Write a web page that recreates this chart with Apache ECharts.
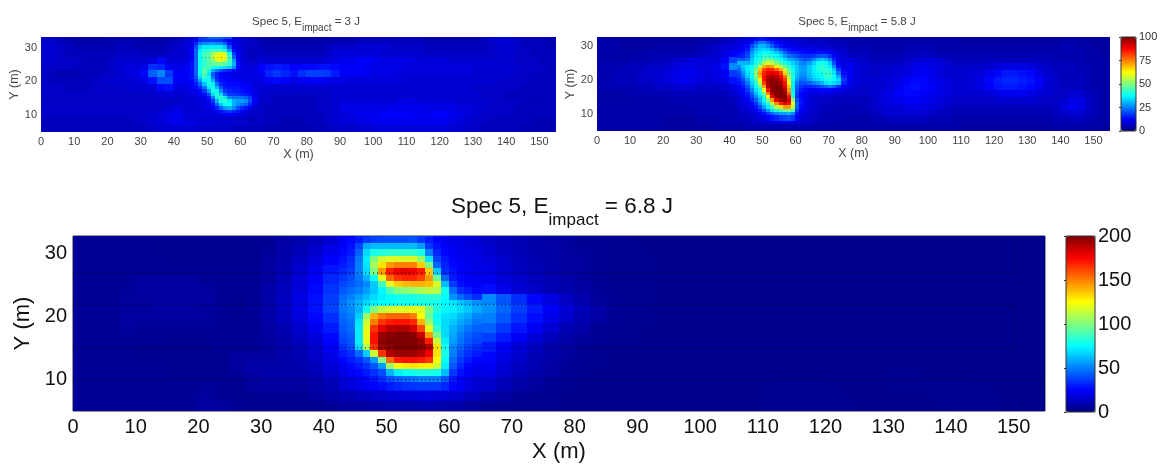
<!DOCTYPE html>
<html><head><meta charset="utf-8">
<style>html,body{margin:0;padding:0;background:#fff}#c{width:1163px;height:464px}</style>
<script src="https://cdn.jsdelivr.net/npm/echarts@6/dist/echarts.min.js"></script>
</head><body><div id="c"></div>
<script>
// Rows run from the top of each plot to the bottom; columns are 2.5 m wide, from X = 0 to 155.
const rows3J = [
[7,7,6,5,4,4,4,4,5,5, 5,5,4,4,4,5,6,7,10,18, 22,22,20,12,8,6,5,4,4,4, 4,4,4,4,4,5,5,5,6,6, 6,6,6,6,6,6,5,5,5,5, 5,5,5,6,8,9,9,7,6,6,6,5],
[8,8,7,6,5,5,5,5,5,6, 6,5,5,5,5,6,7,8,14,34, 38,38,30,16,10,7,6,5,5,5, 5,5,5,5,6,7,7,7,8,8, 8,8,7,7,7,7,6,6,6,6, 6,6,6,6,7,8,8,7,6,6,6,5],
[8,8,7,6,6,6,6,6,6,7, 7,7,6,6,6,7,8,9,16,38, 44,56,58,36,14,9,7,6,6,6, 6,6,6,6,7,9,9,9,9,9, 9,8,8,8,8,8,7,7,7,7, 7,7,7,7,7,8,8,7,7,6,6,6],
[8,8,7,7,7,6,6,6,7,8, 8,8,8,9,13,9,9,10,18,40, 44,55,58,44,20,11,9,8,8,8, 8,8,8,8,9,10,11,11,12,12, 11,10,10,10,10,9,9,9,9,8, 8,8,8,8,8,8,8,7,7,7,6,6],
[7,7,7,7,6,6,6,6,7,8, 9,9,10,17,16,11,10,11,18,38, 44,42,40,36,16,11,12,14,15,14, 12,13,13,14,14,13,12,12,12,11, 10,10,10,10,9,9,9,9,9,9, 9,9,8,8,8,8,8,8,7,7,7,6],
[7,6,5,5,5,6,6,7,7,8, 9,10,13,22,26,18,12,12,20,40, 40,30,14,11,10,10,12,16,18,16, 14,17,19,19,18,15,12,12,12,11, 10,10,10,9,9,9,9,9,9,9, 9,9,8,8,8,8,8,7,7,7,6,6],
[7,6,6,6,6,6,7,7,8,8, 8,9,10,14,20,20,12,11,18,34, 38,26,13,11,10,9,10,12,13,12, 10,11,12,12,11,10,10,9,9,9, 9,9,9,9,8,8,8,8,8,8, 8,8,8,8,8,7,7,7,7,6,6,6],
[7,7,7,6,6,6,7,7,7,7, 8,8,8,9,13,14,10,10,12,20, 38,36,20,13,11,9,8,8,8,8, 8,8,8,8,8,8,8,8,8,8, 8,8,8,8,8,8,8,8,8,8, 8,8,7,7,7,7,7,7,6,6,6,6],
[7,7,7,7,7,7,7,7,7,7, 7,7,7,7,8,9,8,8,9,12, 24,38,36,20,15,12,8,7,7,7, 7,7,7,7,7,8,8,8,8,8, 8,8,8,8,8,8,8,8,8,8, 8,8,8,7,7,7,6,6,6,6,6,6],
[7,7,7,7,7,7,7,7,7,7, 7,7,7,7,7,7,7,7,8,10, 16,28,38,40,28,14,8,7,6,6, 6,6,6,7,7,8,9,9,9,9, 9,9,9,10,10,9,9,9,9,9, 8,8,8,8,7,7,7,7,6,6,6,6],
[7,7,7,7,7,7,7,7,7,7, 7,7,7,7,7,8,9,9,8,8, 10,16,28,30,18,10,7,6,6,6, 6,6,6,7,7,8,10,10,10,10, 10,10,11,11,11,11,10,10,10,10, 9,9,8,8,7,7,7,6,6,6,6,6],
[7,7,7,7,7,7,7,7,7,7, 7,7,7,8,9,10,11,10,9,9, 9,10,11,10,9,8,7,6,6,6, 6,6,6,6,7,8,9,10,11,11, 11,12,12,12,12,11,11,12,12,11, 10,9,8,7,7,7,7,6,6,6,6,6],
[6,6,6,6,6,6,6,6,6,6, 6,7,7,8,9,10,11,11,10,9, 9,8,8,8,8,7,7,6,6,5, 5,5,6,6,7,8,9,9,10,10, 11,11,11,11,11,11,11,11,11,10, 9,8,7,7,6,6,6,6,6,5,5,5],
[6,6,6,6,6,6,6,6,6,6, 6,6,6,7,8,8,8,8,8,7, 7,7,7,6,6,6,6,5,5,5, 5,5,5,6,6,7,7,7,8,8, 9,9,9,9,9,9,9,9,9,8, 8,7,7,6,6,6,6,6,5,5,5,5]
];
const rows58J = [
[4,4,4,3,3,3,3,3,3,3, 3,3,4,4,5,6,7,8,10,14, 14,12,10,9,8,8,7,6,6,5, 5,4,4,4,4,4,4,4,4,4, 4,4,4,4,3,3,3,3,3,3, 3,3,3,3,3,3,4,4,4,3,3,3],
[4,4,4,3,3,3,3,4,4,4, 4,4,5,6,7,8,9,11,14,24, 28,24,18,14,12,10,8,7,6,6, 5,5,5,4,4,4,4,5,5,5, 5,4,4,4,4,4,4,4,4,4, 4,4,4,4,4,4,5,5,4,4,3,3],
[4,4,4,4,4,4,5,5,5,5, 5,5,6,7,8,10,12,15,20,30, 34,32,28,22,17,13,11,9,8,7, 6,6,6,5,5,5,5,6,6,7, 6,5,5,5,5,5,5,5,5,5, 5,5,5,5,5,5,5,5,5,4,4,3],
[4,4,4,4,5,5,5,6,6,7, 8,9,9,9,9,12,19,24,32,34, 38,38,36,30,24,20,20,22,20,15, 10,8,7,6,6,6,6,7,8,9, 9,8,7,6,6,6,6,6,6,6, 6,6,6,6,6,5,5,5,5,4,4,4],
[5,5,5,5,6,6,7,7,8,9, 10,10,9,9,10,14,26,30,36,48, 56,62,56,40,30,26,30,36,36,20, 11,9,8,7,7,7,8,9,10,11, 10,9,8,7,7,7,7,8,9,10, 10,10,9,8,7,6,6,6,5,5,4,4],
[5,5,6,6,6,7,8,8,9,10, 11,11,10,9,10,12,18,28,40,60, 74,78,72,42,30,26,30,36,38,28, 12,9,8,7,8,8,9,10,11,12, 11,9,8,8,8,9,9,11,13,15, 15,14,13,10,8,7,6,6,6,5,4,4],
[5,5,6,6,6,7,7,8,9,10, 11,10,9,8,9,10,14,22,32,55, 90,96,88,55,30,24,28,34,38,30, 11,9,8,8,8,9,10,12,13,13, 11,10,9,8,8,9,10,13,15,16, 16,15,14,12,9,7,6,6,6,5,4,4],
[5,5,5,5,5,6,6,7,7,8, 8,8,7,7,7,8,10,16,24,40, 78,98,98,62,24,18,18,20,24,14, 10,8,7,8,8,9,11,13,14,13, 12,10,9,8,8,9,10,12,14,15, 15,14,13,11,8,7,6,6,6,5,4,4],
[4,4,4,4,5,5,5,5,5,6, 6,6,6,6,6,6,8,12,18,28, 52,92,99,72,22,14,12,11,10,8, 7,7,7,8,9,10,12,13,13,12, 11,10,9,8,8,8,8,9,10,11, 11,11,10,9,8,7,7,8,8,6,5,4],
[4,4,4,4,4,4,4,4,5,5, 5,5,5,5,5,5,6,9,13,20, 34,70,98,84,26,14,10,8,7,7, 6,6,6,7,9,10,11,12,12,11, 10,9,8,7,7,7,7,7,8,8, 8,8,8,7,7,7,8,10,10,7,5,4],
[4,4,4,4,4,4,4,4,4,4, 4,5,5,5,5,5,5,7,9,13, 20,32,62,70,22,12,8,7,6,5, 5,5,6,7,8,9,9,10,10,10, 9,8,7,6,6,6,6,6,6,6, 6,6,6,6,6,7,9,11,10,7,5,4],
[4,4,4,4,4,4,4,4,4,4, 4,4,5,5,5,5,5,5,7,9, 12,16,22,24,12,9,7,6,5,5, 5,5,5,6,7,8,8,8,8,8, 7,6,6,5,5,5,5,5,5,5, 5,5,5,5,5,6,7,8,8,6,5,4],
[4,4,4,4,4,4,4,4,3,3, 3,3,4,4,4,5,5,5,6,7, 8,9,10,10,8,7,6,5,5,4, 4,4,4,5,5,6,6,6,6,6, 5,5,5,4,4,4,4,4,4,4, 4,4,4,4,4,5,5,6,6,5,4,4],
[4,4,4,4,4,4,4,4,3,3, 3,3,3,3,4,4,4,4,5,5, 5,5,5,5,5,5,4,4,4,4, 4,4,4,4,4,4,4,4,4,4, 4,4,4,4,3,3,3,3,3,3, 3,3,3,3,3,4,4,4,4,4,4,3]
];
const rows68J = [
[5,5,5,5,4,4,4,4,4,4, 4,4,5,7,9,12,16,24,34,38, 40,40,38,28,22,18,14,12,10,8, 7,6,5,4,4,4,3,3,3,3, 3,3,3,3,3,3,3,3,3,3, 3,3,3,3,3,3,3,3,3,3,3,3],
[5,5,5,5,5,4,4,4,4,4, 4,4,5,8,11,15,21,28,60,78, 82,82,72,38,26,20,16,13,11,9, 8,6,5,5,4,4,3,3,3,3, 3,3,3,3,3,3,3,3,3,3, 3,3,3,3,3,3,3,3,3,3,3,3],
[5,5,5,5,5,5,4,4,4,4, 4,4,6,9,13,18,25,32,68,120, 125,125,95,45,30,22,18,15,12,10, 8,7,6,5,4,4,4,3,3,3, 3,3,3,3,3,3,3,3,3,3, 3,3,3,3,3,3,3,3,3,3,3,3],
[5,5,5,5,5,5,5,5,5,5, 5,5,7,10,15,22,29,36,70,130, 165,170,135,62,32,24,20,16,13,11, 9,7,6,5,4,4,4,3,3,3, 3,3,3,3,3,3,3,3,3,3, 3,3,3,3,3,3,3,3,3,3,3,3],
[5,5,5,5,6,6,6,6,5,5, 5,5,7,11,17,24,32,40,55,90, 140,155,150,100,40,28,22,18,15,12, 10,8,6,5,4,4,4,3,3,3, 3,3,3,3,3,3,3,3,3,3, 3,3,3,3,3,3,3,3,3,3,3,3],
[5,5,5,5,6,6,7,7,6,5, 5,5,8,12,18,26,35,45,55,80, 115,120,122,105,48,35,27,21,17,14, 11,9,7,5,4,4,4,3,3,3, 3,3,3,3,3,3,3,3,3,3, 3,3,3,3,3,3,3,3,3,3,3,3],
[5,5,5,6,6,7,7,7,7,5, 4,5,8,13,20,28,37,50,60,72, 76,78,80,78,64,60,52,42,34,26, 20,14,10,6,5,4,4,3,3,3, 3,3,3,3,3,3,3,3,3,3, 3,3,3,3,3,3,3,3,3,3,3,3],
[5,5,5,6,6,7,7,7,6,5, 4,5,8,13,20,28,38,50,85,125, 128,125,105,72,70,64,54,45,37,30, 24,17,12,8,5,4,4,3,3,3, 3,3,3,3,3,3,3,3,3,3, 3,3,3,3,3,3,3,3,3,3,3,3],
[5,5,5,6,6,6,6,6,6,5, 4,5,8,12,18,26,34,44,90,150, 162,160,135,85,66,58,50,42,34,27, 21,15,10,7,5,4,4,3,3,3, 3,3,3,3,3,3,3,3,3,3, 3,3,3,3,3,3,3,3,3,3,3,3],
[5,5,5,6,5,5,5,5,5,5, 5,5,7,10,15,22,30,40,85,165, 178,175,160,100,60,52,44,36,29,23, 16,11,8,5,4,4,3,3,3,3, 3,3,3,3,3,3,3,3,3,3, 3,3,3,3,3,3,3,3,3,3,3,3],
[5,5,5,5,5,5,4,4,4,5, 5,5,6,9,13,18,26,36,80,170, 198,198,185,120,54,44,37,30,23,17, 12,8,6,5,4,4,3,3,3,3, 3,3,3,3,3,3,3,3,3,3, 3,3,3,3,3,3,3,3,3,3, 3,3,3,3,3,3,3,3,3,3,3,3].slice(0,62),
[5,5,5,5,4,4,4,4,4,5, 5,5,6,8,11,16,24,38,75,165, 198,200,198,130,55,40,30,24,18,13, 9,7,5,4,4,3,3,3,3,3, 3,3,3,3,3,3,3,3,3,3, 3,3,3,3,3,3,3,3,3,3,3,3],
[5,5,5,5,4,4,4,4,4,4, 6,7,7,8,10,14,20,28,45,100, 165,172,172,125,50,35,26,20,15,11, 8,6,5,4,3,3,3,3,3,3, 3,3,3,3,3,3,3,3,3,3, 3,3,3,3,3,3,3,3,3,3,3,3],
[5,5,5,5,5,5,4,4,4,4, 6,8,8,8,9,12,17,22,34,50, 90,112,112,100,45,30,23,17,13,10, 7,5,4,3,3,3,3,3,3,3, 3,3,3,3,3,3,3,3,3,3, 3,3,3,3,3,3,3,3,3,3,3,3],
[5,5,5,5,5,5,4,4,4,4, 5,7,8,8,8,10,14,19,26,34, 52,55,55,50,35,28,20,15,11,8, 6,5,4,3,3,3,3,3,3,3, 3,3,3,3,3,3,3,3,3,3, 3,3,4,4,3,3,3,3,3,3,3,3],
[5,5,5,5,5,5,5,5,5,5, 4,6,7,7,6,8,11,14,18,22, 28,30,30,30,26,20,15,11,8,6, 5,4,3,3,3,3,3,3,3,3, 3,3,3,3,3,4,4,4,3,3, 3,3,4,4,4,4,4,3,3,3,3,3],
[5,5,5,5,5,5,5,5,6,5, 4,4,5,5,5,6,8,10,12,14, 16,17,18,17,15,12,9,7,5,4, 4,3,3,3,3,3,3,3,3,3, 3,3,3,3,4,4,4,4,4,3, 3,3,3,3,3,4,4,4,4,3,3,3],
[5,5,5,5,5,5,5,5,7,6, 5,4,4,4,4,4,5,6,7,8, 9,9,10,9,8,6,5,4,3,3, 3,3,3,3,3,3,3,3,3,3, 3,3,3,3,4,4,4,4,4,4, 3,3,3,3,3,3,4,4,4,3,3,3]
];
// Finer readings of the hot zones: 1.25 m columns from X = 42.5, 1 m rows from Y = 32.5 down to 8.5.
const hot3J = [
[8,8,9,12,16,18,18,18,18,17,14,11,9,8,8,7,7,7],
[8,9,10,16,24,26,27,28,27,26,22,14,10,9,8,7,7,7],
[8,9,11,20,32,36,36,36,36,36,32,20,11,9,8,7,7,6],
[8,9,12,22,36,40,42,44,44,44,40,28,14,10,9,7,6,6],
[8,9,12,22,38,44,46,52,58,60,58,38,18,11,9,7,6,6],
[8,9,12,22,38,44,46,56,62,64,62,44,22,12,9,8,7,6],
[9,10,13,22,38,42,46,50,58,60,56,44,28,13,10,8,7,7],
[10,11,14,22,38,42,46,46,48,48,46,42,30,14,10,9,8,8],
[11,12,14,22,38,44,44,40,38,36,34,32,26,13,10,9,9,9],
[12,12,14,22,38,46,40,30,24,20,17,15,13,11,10,9,9,10],
[12,12,14,22,38,46,36,22,16,13,12,11,10,10,10,10,10,10],
[12,12,14,20,34,42,38,24,16,13,12,11,11,10,10,10,10,10],
[11,11,13,18,28,38,40,30,18,14,13,12,12,11,11,10,10,9],
[10,11,12,15,22,32,40,36,24,16,14,13,13,13,12,11,11,9],
[10,10,11,13,17,24,36,40,30,20,15,14,14,14,13,12,12,9],
[9,9,10,11,13,18,28,40,38,26,18,16,15,15,14,13,12,10],
[8,9,9,10,11,14,20,34,42,34,24,18,18,17,16,15,14,10],
[8,8,9,9,10,12,15,26,40,42,36,26,24,24,24,22,18,12],
[8,8,8,9,9,10,12,18,30,40,42,36,30,28,28,26,20,12],
[8,8,8,8,9,10,11,14,22,32,38,38,30,26,24,22,16,10],
[8,8,8,8,9,9,10,12,16,22,28,30,26,20,16,14,11,8],
[8,8,8,8,8,9,9,10,12,14,16,18,16,14,11,9,8,7],
[9,9,9,9,9,9,9,9,10,10,11,12,11,10,9,8,7,7],
[9,9,9,8,8,8,8,8,8,8,8,8,8,7,7,7,6,6]
];
const hot58J = [
[8,8,9,10,11,14,14,12,10,9,9,8,8,8,7,7,7,6,6,6,6,6,5,5,5,5],
[9,10,11,14,20,24,24,20,16,13,11,10,9,9,8,8,8,7,7,7,7,7,6,6,6,5],
[10,11,13,20,26,30,30,27,22,17,14,12,11,10,10,9,9,9,8,8,8,8,7,7,6,6],
[11,12,15,24,30,33,34,33,30,25,20,16,14,13,12,11,11,10,10,10,10,9,9,8,7,7],
[13,14,18,27,33,36,38,38,36,32,28,22,18,16,15,14,14,13,13,14,14,13,12,10,9,8],
[15,16,20,30,36,38,42,42,40,38,34,28,24,22,20,18,17,17,18,20,21,20,17,13,10,9],
[22,21,23,32,38,40,46,48,46,42,38,34,30,28,25,22,20,21,26,30,32,30,24,16,11,9],
[30,30,30,33,40,44,54,58,56,50,44,40,36,33,30,26,25,28,33,38,40,38,32,20,12,9],
[26,32,36,38,44,55,70,74,72,64,56,48,42,36,32,28,28,32,36,40,42,40,36,26,14,10],
[22,30,36,40,48,68,80,84,84,78,70,56,46,38,32,28,28,32,36,40,42,42,40,32,18,11],
[20,27,35,40,52,72,84,88,90,88,82,66,50,40,32,28,28,32,36,38,40,42,42,36,24,13],
[18,24,32,38,50,70,86,94,96,94,88,76,54,40,30,26,26,30,34,36,38,42,42,38,30,15],
[16,20,28,36,46,64,86,96,98,97,92,82,58,38,28,24,24,28,32,34,36,40,40,38,34,18],
[14,17,24,33,42,56,82,96,99,99,96,86,62,36,24,20,20,22,25,27,30,34,36,34,32,16],
[12,15,20,30,38,48,72,94,99,100,98,90,68,36,22,18,16,16,17,18,20,22,24,22,17,12],
[11,13,18,26,35,42,60,86,98,100,100,94,72,36,20,15,13,12,12,12,13,13,13,12,11,10],
[10,12,15,22,31,38,50,75,95,100,100,98,78,38,18,13,11,10,10,9,9,9,9,9,8,8],
[9,11,14,19,27,34,42,62,88,98,100,99,86,42,18,13,11,9,8,8,8,8,8,7,7,7],
[9,10,12,16,22,30,38,50,72,90,97,98,90,52,20,14,11,9,8,7,7,7,7,7,6,6],
[8,9,10,13,18,26,34,42,56,74,85,90,86,60,22,14,11,9,8,7,7,6,6,6,6,6],
[7,8,9,11,14,20,28,36,44,56,66,72,72,56,22,13,10,9,8,7,6,6,6,6,5,5],
[7,7,8,9,11,15,20,27,34,40,44,48,50,44,18,12,10,8,7,7,6,6,5,5,5,5],
[6,7,7,8,9,11,14,18,22,26,28,28,30,26,14,10,9,8,7,6,6,5,5,5,5,5],
[6,6,6,7,8,9,10,12,14,16,18,19,20,18,12,9,8,7,6,6,5,5,5,5,5,5]
];
const hot68J = [
[22,26,30,36,38,40,40,40,40,42,36,30,25,22,20,19,18,17],
[24,28,38,58,62,62,62,62,62,62,55,36,28,24,22,20,19,18],
[26,30,44,68,80,82,84,84,84,84,80,50,32,26,23,21,20,19],
[28,33,48,72,100,115,118,118,118,118,105,70,38,29,25,22,21,20],
[30,35,50,70,108,130,145,150,150,150,135,100,45,31,26,24,22,20],
[33,37,50,68,100,145,170,178,180,178,170,135,65,33,28,25,23,21],
[36,40,48,60,78,120,155,165,168,168,162,145,95,45,30,26,24,22],
[38,42,46,52,65,88,120,135,138,140,140,138,118,62,36,28,25,23],
[42,46,50,56,64,74,90,100,102,105,108,112,110,78,46,34,30,26],
[46,50,56,62,68,72,76,78,80,80,82,84,84,76,54,46,40,34],
[48,54,60,68,72,75,76,78,78,78,80,80,78,74,70,64,60,54],
[48,52,60,78,100,112,116,118,118,120,118,100,82,74,72,68,64,58],
[46,50,65,105,140,150,155,155,155,150,125,95,75,70,68,62,58,52],
[44,48,70,115,150,165,170,172,172,168,140,105,78,68,64,58,54,48],
[42,46,72,120,165,180,188,190,190,182,160,120,85,68,60,54,48,44],
[40,44,72,122,172,195,198,200,200,198,185,145,98,68,58,50,44,40],
[38,42,72,120,172,198,200,200,200,200,195,170,115,72,56,48,42,38],
[35,40,68,110,165,195,198,200,200,200,198,190,130,78,52,45,38,34],
[30,34,45,65,115,165,190,195,195,195,190,178,130,80,50,40,34,30],
[26,30,35,42,56,100,155,170,172,172,170,165,125,76,46,36,30,26],
[22,26,30,35,42,55,105,125,128,130,128,128,115,72,42,32,26,22],
[20,23,26,30,34,40,60,72,76,78,80,80,78,62,36,28,24,20],
[18,20,23,26,29,34,40,44,46,48,50,50,50,42,30,25,21,18],
[16,18,20,23,25,27,30,32,34,35,36,36,36,32,26,22,19,16]
];
// Dotted survey lines, as [X, Y] paths in metres.
const dots27 = [[0,26.85],[150,26.85],[150,32.2]];
const dots22 = [[0,21.9],[150,21.9],[150,15],[0,15]];
const dots10 = [[0,10],[155,10]];
const dotsCorner = [[151,6],[154.5,9.2]];
const smallDots27 = [[0,27],[150,27]];
const smallDots22 = [[0,22],[150,22]];
const smallDots15 = [[0,15],[150,15]];
const jet = ['#00007f','#0000ff','#007fff','#00ffff','#7fff7f','#ffff00','#ff7f00','#ff0000','#7f0000'];
const F = 'Liberation Sans';

const chart = echarts.init(document.getElementById('c'), null, {renderer:'canvas'});
const grids=[], xAxes=[], yAxes=[], series=[], visualMaps=[], titles=[];

function title(cx, top, size, subSize, color, val){
  titles.push({
    left:cx, top:top, textAlign:'center',
    text:'{a|Spec 5, E}{b|impact}{a| = '+val+' J}',
    textStyle:{rich:{
      a:{fontFamily:F,fontWeight:'normal',fontSize:size,color:color,lineHeight:size*1.5,verticalAlign:'top'},
      b:{fontFamily:F,fontWeight:'normal',fontSize:subSize,color:color,lineHeight:size*1.5,verticalAlign:'bottom'}
    }}
  });
}
function cellSeries(gi, rows, xStart, dx, yTop, dy){
  const data=[];
  rows.forEach((r,ri)=>r.forEach((v,ci)=>data.push([xStart+dx*(ci+.5), yTop-dy*(ri+.5), v])));
  return {type:'custom',coordinateSystem:'cartesian2d',xAxisIndex:gi,yAxisIndex:gi,data:data,clip:true,silent:true,z:1,progressive:0,
    encode:{x:0,y:1},
    renderItem:(p,api)=>{
      const x=api.value(0), y=api.value(1);
      const a=api.coord([x-dx/2,y+dy/2]), b=api.coord([x+dx/2,y-dy/2]);
      const x0=Math.floor(a[0]), y0=Math.floor(a[1]);
      return {type:'rect',shape:{x:x0,y:y0,width:Math.ceil(b[0]-x0)+1,height:Math.ceil(b[1]-y0)+1},style:{fill:api.visual('color')}};
    }};
}
function panel(rect, layers, yMin, yMax, fs, nameFs, gapX, gapY, color, lines, lineColor, frame, labMargin){
  const gi=grids.length;
  grids.push(Object.assign({outerBoundsMode:'none',containLabel:false},rect,frame?{show:true,borderColor:frame,borderWidth:1,backgroundColor:'transparent'}:{}));
  xAxes.push({gridIndex:gi,type:'value',min:0,max:155,interval:10,splitLine:{show:false},axisLine:{show:false},axisTick:{show:false},
    axisLabel:{fontFamily:F,fontSize:fs,color:color,margin:labMargin,showMaxLabel:false},
    name:'X (m)',nameLocation:'middle',nameGap:gapX,nameTextStyle:{fontFamily:F,fontSize:nameFs,color:color}});
  yAxes.push({gridIndex:gi,type:'value',min:yMin,max:yMax,interval:5,splitLine:{show:false},axisLine:{show:false},axisTick:{show:false},
    axisLabel:{fontFamily:F,fontSize:fs,color:color,margin:labMargin,formatter:v=>v%10===0?String(v):''},
    name:'Y (m)',nameLocation:'middle',nameGap:gapY,nameTextStyle:{fontFamily:F,fontSize:nameFs,color:color}});
  const idx=[];
  layers.forEach(l=>{idx.push(series.length);series.push(cellSeries(gi,l.rows,l.x,l.dx,l.top,l.dy));});
  lines.forEach(l=>series.push({type:'line',xAxisIndex:gi,yAxisIndex:gi,data:l,showSymbol:false,silent:true,z:4,animation:false,
    lineStyle:{color:lineColor,width:1,type:[1,3]}}));
  return idx;
}
function bar(si, x, y, w, h, maxV, step, fs, color, show){
  visualMaps.push({type:'continuous',seriesIndex:si,dimension:2,min:0,max:maxV,show:show,left:x,top:y,itemWidth:w,itemHeight:h,padding:0,
    calculable:false,realtime:false,hoverLink:false,text:null,inRange:{color:jet}});
  if(!show) return;
  const gi=grids.length;
  grids.push({outerBoundsMode:'none',containLabel:false,left:x,top:y,width:w,height:h,show:true,borderColor:'#333',borderWidth:1,backgroundColor:'transparent',z:6});
  xAxes.push({gridIndex:gi,type:'value',min:0,max:1,show:false});
  yAxes.push({gridIndex:gi,type:'value',min:0,max:maxV,interval:step,position:'right',z:6,splitLine:{show:false},axisLine:{show:false},
    axisTick:{show:true,inside:true,length:2,lineStyle:{color:'#333'}},
    axisLabel:{fontFamily:F,fontSize:fs,color:color,margin:3}});
}

const s1=panel({left:41,top:37,width:515,height:95},[{rows:rows3J,x:0,dx:2.5,top:33.1,dy:28.1/14},{rows:hot3J,x:42.5,dx:1.25,top:32.5,dy:1}],5,33.1,11,12.5,16,15,'#444',[smallDots27,smallDots22,smallDots15],'rgba(0,0,60,0.35)',null,4);
const s2=panel({left:597,top:37,width:513,height:94},[{rows:rows58J,x:0,dx:2.5,top:32.8,dy:27.8/14},{rows:hot58J,x:42.5,dx:1.25,top:32.5,dy:1}],5,32.8,11,12.5,16,14,'#444',[smallDots27,smallDots22,smallDots15],'rgba(0,0,60,0.35)',null,4);
const s3=panel({left:73,top:236,width:972,height:175},[{rows:rows68J,x:0,dx:2.5,top:32.7,dy:27.7/18},{rows:hot68J,x:42.5,dx:1.25,top:32.5,dy:1}],5,32.7,20,22,30,30,'#111',[dots27,dots22,dots10,dotsCorner],'#000','#333',6);
bar(s1,0,0,10,10,100,25,11,'#444',false);
bar(s2,1121,37,15,94,100,25,11,'#333',true);
bar(s3,1066,236,29,176,200,50,20,'#111',true);

title(301,11,11.5,10,'#444','3');
title(852,11,11.5,10,'#444','5.8');
title(557,190,22.5,17,'#111','6.8');

chart.setOption({animation:false,backgroundColor:'#fff',tooltip:{show:false},title:titles,grid:grids,xAxis:xAxes,yAxis:yAxes,visualMap:visualMaps,series:series});
</script></body></html>
